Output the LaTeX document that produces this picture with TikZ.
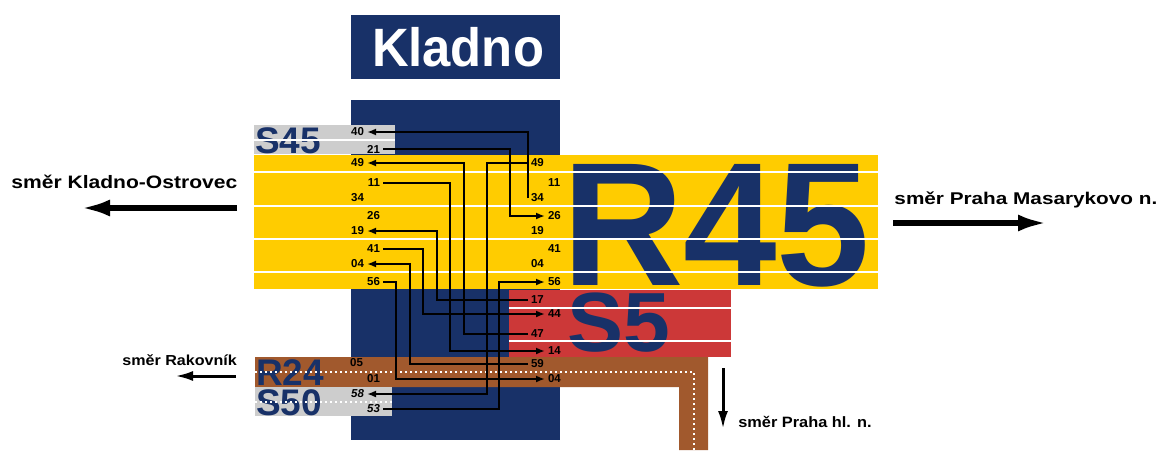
\documentclass[tikz,border=0pt]{standalone}
\usepackage{fontspec}
\setmainfont{Liberation Sans}
\usetikzlibrary{arrows.meta}
\definecolor{kdblue}{RGB}{24,49,104}
\definecolor{ryellow}{RGB}{255,204,0}
\definecolor{sgray}{RGB}{205,205,205}
\definecolor{sred}{RGB}{204,56,56}
\definecolor{rbrown}{RGB}{161,89,45}
\newcommand{\fsz}[1]{\fontsize{#1}{#1}\selectfont\bfseries}

\begin{document}
\begin{tikzpicture}[x=1pt,y=-1pt,line width=2.4pt,>={Latex[length=9pt,width=7pt]},
  num/.style={font=\fsz{11.5},inner sep=0pt,outer sep=3pt},
  linename/.style={text=kdblue,inner sep=0pt,anchor=base west},
  sep/.style={white,line width=1.6pt},
  dots/.style={white,line width=2.2pt,dash pattern=on 2.2pt off 2.8pt},
  dirarrow/.style={line width=5.5pt,-{Latex[length=29pt,width=17pt]}},
  dirarrowsmall/.style={line width=3pt,-{Latex[length=18pt,width=10pt]}},
  dirtext/.style={inner sep=0pt,anchor=base west}]
  \useasboundingbox (0,0) rectangle (1161,450);
  % station
  \fill[kdblue] (351,15) rectangle (560,79);
  \node[font=\fsz{54},white,xscale=0.94] (kladno) at (458,47) {Kladno};
  \fill[kdblue] (351,100) rectangle (560,440);
  % S45
  \fill[sgray] (254,125) rectangle (395,154);
  \node[linename,font=\fsz{37}] (s45) at (254,153) {S45};
  \draw[sep] (254,140) -- (395,140);
  % R45
  \fill[ryellow] (254,155) rectangle (878,289);
  \node[linename,font=\fsz{176},xscale=0.955] (r45) at (561,285) {R45};
  \foreach \y in {172,206,239,272} \draw[sep] (254,\y) -- (878,\y);
  % S5
  \fill[sred] (509,290) rectangle (731,357);
  \node[linename,font=\fsz{84}] (s5) at (566,351) {S5};
  \foreach \y in {308,341} \draw[sep] (509,\y) -- (731,\y);
  % R24
  \fill[rbrown] (255,357) -| (708,450) -| (679,387) -| cycle;
  \node[linename,font=\fsz{37}] (r24) at (255,385) {R24};
  \draw[dots] (255,372) -| (694,450);
  % S50
  \fill[sgray] (255,387) rectangle (392,416);
  \node[linename,font=\fsz{37}] (s50) at (255,415) {S50};
  \draw[dots] (255,402) -- (392,402);

  % times, west side
  \node[num,anchor=east] (l40) at (367,132) {40};
  \node[num,anchor=east] (l21) at (383,149) {21};
  \node[num,anchor=east] (l49) at (367,163) {49};
  \node[num,anchor=east] (l11) at (383,183) {11};
  \node[num,anchor=east] (l34) at (367,198) {34};
  \node[num,anchor=east] (l26) at (383,216) {26};
  \node[num,anchor=east] (l19) at (367,231) {19};
  \node[num,anchor=east] (l41) at (383,249) {41};
  \node[num,anchor=east] (l04) at (367,264) {04};
  \node[num,anchor=east] (l56) at (383,282) {56};
  \node[num,anchor=east] (l05) at (366,363) {05};
  \node[num,anchor=east] (l01) at (383,379) {01};
  \node[num,anchor=east,font=\fsz{11.5}\itshape] (l58) at (367,394) {58};
  \node[num,anchor=east,font=\fsz{11.5}\itshape] (l53) at (383,409) {53};
  % times, east side
  \node[num,anchor=west] (r49) at (528,163) {49};
  \node[num,anchor=west] (r11) at (545,183) {11};
  \node[num,anchor=west] (r34) at (528,198) {34};
  \node[num,anchor=west] (r26) at (545,216) {26};
  \node[num,anchor=west] (r19) at (528,231) {19};
  \node[num,anchor=west] (r41) at (545,249) {41};
  \node[num,anchor=west] (r04) at (528,264) {04};
  \node[num,anchor=west] (r56) at (545,282) {56};
  \node[num,anchor=west] (r17) at (528,300) {17};
  \node[num,anchor=west] (r44) at (545,314) {44};
  \node[num,anchor=west] (r47) at (528,334) {47};
  \node[num,anchor=west] (r14) at (545,351) {14};
  \node[num,anchor=west] (r59) at (528,364) {59};
  \node[num,anchor=west] (r04b) at (545,379) {04};

  % connections
  \draw[->] (r34.west) |- (l40.east);
  \draw[->] (l21.east) -| (510,216) -- (r26.west);
  \draw[->] (r47.west) -| (464,163) -- (l49.east);
  \draw[->] (l11.east) -| (450,351) -- (r14.west);
  \draw[->] (r17.west) -| (437,231) -- (l19.east);
  \draw[->] (l41.east) -| (423,314) -- (r44.west);
  \draw[->] (r59.west) -| (410,264) -- (l04.east);
  \draw[->] (l56.east) -| (396,379) -- (r04b.west);
  \draw[->] (r49.west) -| (487,394) -- (l58.east);
  \draw[->] (l53.east) -| (499,282) -- (r56.west);

  % directions
  \node[dirtext,font=\fsz{18},xscale=1.17] (ostrovec) at (10,188) {směr Kladno-Ostrovec};
  \coordinate (ostrovecA) at (237,208);
  \coordinate (ostrovecB) at (81,208);
  \draw[dirarrow] (ostrovecA) -- (ostrovecB);
  \node[dirtext,font=\fsz{17},xscale=1.22] (masarykovo) at (893,204) {směr Praha Masarykovo n.};
  \coordinate (masarykovoA) at (893,223);
  \coordinate (masarykovoB) at (1047,223);
  \draw[dirarrow] (masarykovoA) -- (masarykovoB);
  \node[dirtext,font=\fsz{14.5},xscale=1.11] (rakovnik) at (121,365) {směr Rakovník};
  \coordinate (rakovnikA) at (236,376);
  \coordinate (rakovnikB) at (175,376);
  \draw[dirarrowsmall] (rakovnikA) -- (rakovnikB);
  \node[dirtext,font=\fsz{15},xscale=1.09] (hlavni) at (737,427) {směr Praha hl. n.};
  \coordinate (hlavniA) at (723,368);
  \coordinate (hlavniB) at (723,429);
  \draw[dirarrowsmall] (hlavniA) -- (hlavniB);
\end{tikzpicture}
\end{document}
